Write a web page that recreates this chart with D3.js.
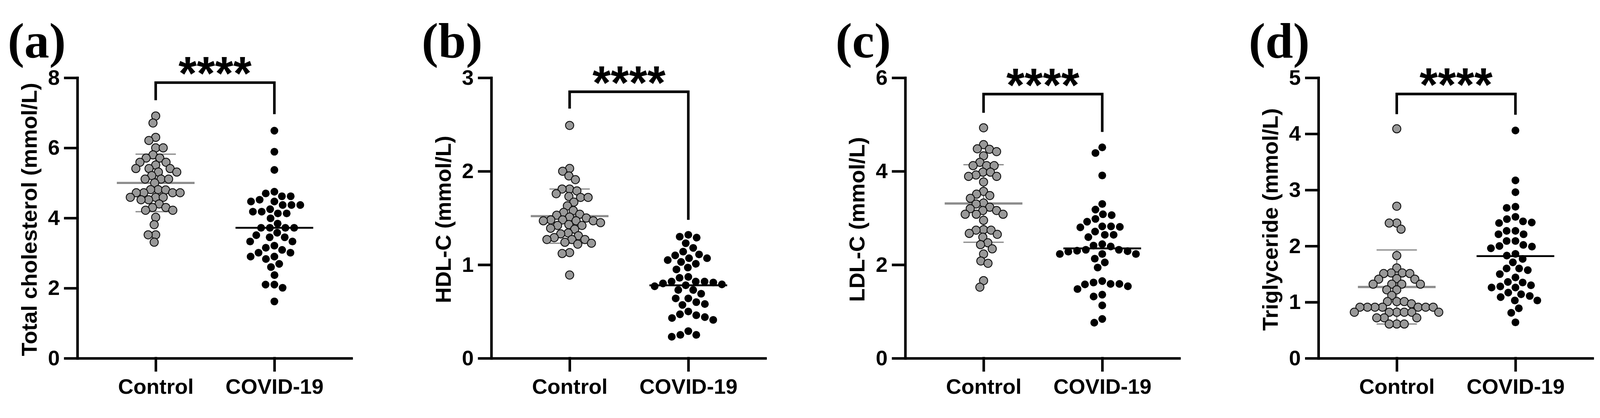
<!DOCTYPE html>
<html>
<head>
<meta charset="utf-8">
<script src="https://cdn.jsdelivr.net/npm/d3@7"></script>
<style>
  html, body { margin: 0; padding: 0; background: #ffffff; overflow: hidden; width: 100%; height: 100%; }
  svg { display: block; width: 100vw; height: 100vh; }
  text { font-family: "Liberation Sans", Arial, Helvetica, sans-serif; font-weight: bold; fill: #000; }
</style>
</head>
<body>
<svg id="chart" viewBox="0 0 4364 1070" preserveAspectRatio="xMidYMid meet"></svg>
<script>
// ---------------- DATA ----------------
const categories = ["Control", "COVID-19"];
const panelLabels = ["(a)", "(b)", "(c)", "(d)"];
const yTitles = ["Total cholesterol (mmol/L)", "HDL-C (mmol/L)", "LDL-C (mmol/L)", "Triglyceride (mmol/L)"];
const yMax = [8, 3, 6, 5];
const yTickValues = [[0, 2, 4, 6, 8], [0, 1, 2, 3], [0, 2, 4, 6], [0, 1, 2, 3, 4, 5]];

const tcControl = [6.91,6.71,6.30,6.21,6.00,6.00,5.80,5.71,5.71,5.59,5.59,5.51,5.41,5.41,5.41,5.31,5.31,5.21,5.11,5.11,5.11,5.00,4.81,4.81,4.80,4.72,4.72,4.72,4.72,4.59,4.59,4.59,4.52,4.52,4.40,4.30,4.30,4.22,4.22,4.02,3.81,3.52,3.52,3.31];
const tcCovid = [6.49,5.89,5.37,4.75,4.70,4.62,4.62,4.52,4.47,4.47,4.37,4.37,4.37,4.25,4.18,4.18,4.13,4.13,3.99,3.84,3.72,3.72,3.72,3.72,3.58,3.51,3.45,3.45,3.33,3.33,3.21,3.15,3.09,3.01,3.01,2.90,2.90,2.83,2.69,2.60,2.37,2.10,2.10,2.01,1.62];
const hdlControl = [2.49,2.03,2.00,1.95,1.91,1.81,1.81,1.79,1.76,1.72,1.72,1.73,1.67,1.63,1.58,1.56,1.54,1.53,1.51,1.48,1.50,1.48,1.47,1.47,1.47,1.45,1.43,1.42,1.42,1.39,1.38,1.34,1.33,1.31,1.27,1.27,1.27,1.29,1.23,1.24,1.22,1.13,1.12,0.89];
const hdlCovid = [1.32,1.29,1.30,1.23,1.18,1.14,1.11,1.10,1.07,1.07,1.05,1.03,1.01,0.97,0.95,0.86,0.87,0.79,0.80,0.81,0.82,0.82,0.82,0.77,0.78,0.73,0.73,0.69,0.64,0.64,0.60,0.58,0.57,0.50,0.47,0.46,0.44,0.43,0.41,0.29,0.23,0.25,0.25];
const ldlControl = [4.93,4.57,4.42,4.47,4.48,4.33,4.19,4.12,4.12,4.12,3.98,3.98,3.89,3.92,3.89,3.77,3.57,3.51,3.48,3.42,3.32,3.30,3.23,3.20,3.16,3.16,3.08,3.08,3.08,2.95,2.74,2.74,2.75,2.65,2.67,2.59,2.47,2.43,2.34,2.23,2.08,2.03,1.66,1.52];
const ldlCovid = [4.51,4.39,3.91,3.30,3.18,3.08,3.06,2.98,2.92,2.82,2.80,2.82,2.81,2.71,2.64,2.64,2.59,2.44,2.41,2.39,2.32,2.32,2.30,2.23,2.29,2.23,2.28,2.23,2.13,2.05,1.94,1.65,1.62,1.58,1.59,1.59,1.54,1.48,1.36,1.32,1.13,0.84,0.76];
const tgControl = [4.09,2.71,2.41,2.41,2.30,1.83,1.61,1.52,1.52,1.51,1.51,1.42,1.41,1.41,1.32,1.32,1.32,1.32,1.22,1.22,1.12,1.01,1.01,1.01,0.97,0.91,0.91,0.91,0.91,0.91,0.91,0.91,0.82,0.82,0.82,0.82,0.82,0.82,0.72,0.72,0.72,0.61,0.61,0.61];
const tgCovid = [4.06,3.17,2.96,2.70,2.68,2.52,2.48,2.44,2.41,2.42,2.27,2.27,2.21,2.21,2.09,2.09,2.02,1.99,2.00,1.96,1.83,1.86,1.77,1.71,1.60,1.60,1.57,1.50,1.44,1.36,1.35,1.30,1.28,1.26,1.26,1.17,1.14,1.11,1.09,1.03,1.03,0.89,0.81,0.64];

const meanControl = [5.00, 1.52, 3.31, 1.27];
const sdControl = [0.82, 0.29, 0.83, 0.66];
const meanCovid = [3.72, 0.78, 2.35, 1.82];

const bracketTop = [7.86, 2.85, 5.65, 4.71];
const bracketLegControl = [7.36, 2.67, 5.25, 4.35];
const bracketLegCovid = [6.96, 1.48, 4.84, 4.34];
const sigLabels = ["****", "****", "****", "****"];

// ---------------- LAYOUT ----------------
const axisX = [211, 1340, 2469, 3596];
const plotW = 751;
const yTopPx = 177, yBotPx = 942;
const lineW = 7;
const dotR = 11.2;
const FONT = 58;

const groups = [
  [tcControl, tcCovid],
  [hdlControl, hdlCovid],
  [ldlControl, ldlCovid],
  [tgControl, tgCovid]
];

const svg = d3.select("#chart");

function swarm(values, y, d) {
  const pts = values.map(v => ({ v, y: y(v), x: 0 }))
    .sort((a, b) => a.y - b.y);
  const placed = [];
  for (const p of pts) {
    const cands = [0];
    for (const q of placed) {
      const dy = Math.abs(q.y - p.y);
      if (dy < d) {
        const dx = Math.sqrt(d * d - dy * dy);
        cands.push(q.x + dx, q.x - dx);
      }
    }
    cands.sort((a, b) => Math.abs(a) - Math.abs(b) || a - b);
    for (const c of cands) {
      let ok = true;
      for (const q of placed) {
        const dx = q.x - c, dy = q.y - p.y;
        if (dx * dx + dy * dy < d * d - 0.01) { ok = false; break; }
      }
      if (ok) { p.x = c; break; }
    }
    placed.push(p);
  }
  return placed;
}

for (let i = 0; i < 4; i++) {
  const g = svg.append("g").attr("transform", `translate(${axisX[i]},0)`);
  const x = d3.scalePoint().domain(categories).range([0, plotW]).padding(0.66);
  const y = d3.scaleLinear().domain([0, yMax[i]]).range([yBotPx, yTopPx]);

  // panel label
  svg.append("text")
    .attr("x", axisX[i] - 190)
    .attr("y", 122)
    .style("font-family", "'Liberation Serif', 'Times New Roman', serif")
    .style("font-size", "136px")
    .style("font-weight", "bold")
    .text(panelLabels[i]);

  // y axis
  const yAxis = d3.axisLeft(y).tickValues(yTickValues[i]).tickSize(33).tickSizeOuter(0).tickPadding(15)
    .tickFormat(d3.format("d"));
  const ya = g.append("g").call(yAxis);
  ya.selectAll("path, line").attr("stroke", "#000").attr("stroke-width", lineW).attr("stroke-linecap", "square");
  ya.selectAll("text").style("font-size", FONT + "px").attr("fill", "#000");

  // x axis
  const xAxis = d3.axisBottom(x).tickSize(33).tickSizeOuter(0).tickPadding(23);
  const xa = g.append("g").attr("transform", `translate(0,${yBotPx})`).call(xAxis);
  xa.selectAll("path, line").attr("stroke", "#000").attr("stroke-width", lineW).attr("stroke-linecap", "square");
  xa.select("path.domain").attr("stroke-linecap", "butt");
  xa.selectAll("text").style("font-size", FONT + "px").attr("fill", "#000");

  // y title
  g.append("text")
    .attr("transform", `translate(${-111},${(yTopPx + yBotPx) / 2 + 4}) rotate(-90)`)
    .attr("text-anchor", "middle")
    .style("font-size", "60px")
    .text(yTitles[i]);

  // control mean and SD (drawn beneath dots)
  const cx = x(categories[0]);
  const m = meanControl[i], s = sdControl[i];
  g.append("line").attr("x1", cx).attr("x2", cx).attr("y1", y(m + s)).attr("y2", y(m - s))
    .attr("stroke", "#8c8c8c").attr("stroke-width", 3.5);
  [m + s, m - s].forEach(v => {
    g.append("line").attr("x1", cx - 55).attr("x2", cx + 55).attr("y1", y(v)).attr("y2", y(v))
      .attr("stroke", "#8c8c8c").attr("stroke-width", 3.5);
  });
  g.append("line").attr("x1", cx - 106).attr("x2", cx + 106).attr("y1", y(m)).attr("y2", y(m))
    .attr("stroke", "#8c8c8c").attr("stroke-width", 6);

  // covid mean
  const vx = x(categories[1]);
  g.append("line").attr("x1", vx - 106).attr("x2", vx + 106).attr("y1", y(meanCovid[i])).attr("y2", y(meanCovid[i]))
    .attr("stroke", "#000").attr("stroke-width", 5);

  // dots
  const ctrlPts = swarm(groups[i][0], y, 20.5);
  g.append("g").selectAll("circle").data(ctrlPts).join("circle")
    .attr("cx", d => cx + d.x).attr("cy", d => d.y).attr("r", dotR)
    .attr("fill", "#999999").attr("stroke", "#111").attr("stroke-width", 2.4);
  const covPts = swarm(groups[i][1], y, 24);
  g.append("g").selectAll("circle").data(covPts).join("circle")
    .attr("cx", d => vx + d.x).attr("cy", d => d.y).attr("r", dotR - 0.6)
    .attr("fill", "#000");

  // significance bracket
  const bt = y(bracketTop[i]);
  g.append("path")
    .attr("d", `M${cx},${y(bracketLegControl[i])}V${bt}H${vx}V${y(bracketLegCovid[i])}`)
    .attr("fill", "none").attr("stroke", "#000").attr("stroke-width", 7).attr("stroke-linejoin", "miter");
  g.append("text")
    .attr("x", (cx + vx) / 2).attr("y", bt + 19)
    .attr("text-anchor", "middle")
    .style("font-size", "128px")
    .text(sigLabels[i]);
}
</script>
</body>
</html>
